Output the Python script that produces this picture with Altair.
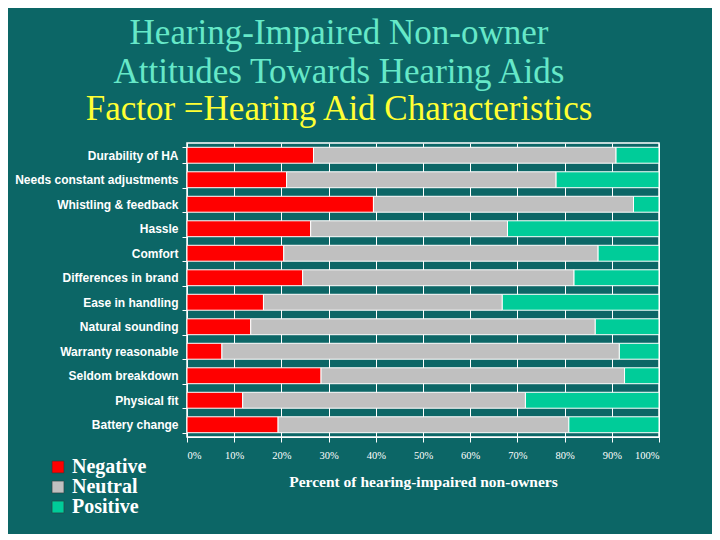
import altair as alt
import pandas as pd

factors = ["Durability of HA", "Needs constant adjustments", "Whistling & feedback",
           "Hassle", "Comfort", "Differences in brand", "Ease in handling",
           "Natural sounding", "Warranty reasonable", "Seldom breakdown",
           "Physical fit", "Battery change"]
negative = [26.8, 21.1, 39.5, 26.2, 20.5, 24.5, 16.2, 13.5, 7.4, 28.4, 11.8, 19.3]
neutral = [64.1, 57.1, 55.1, 41.7, 66.6, 57.5, 50.6, 73.0, 84.2, 64.3, 59.9, 61.6]
positive = [9.1, 21.8, 5.4, 32.1, 12.9, 18.0, 33.2, 13.5, 8.4, 7.3, 28.3, 19.1]
responses = ["Negative", "Neutral", "Positive"]
colors = ["#ff0000", "#c0c0c0", "#00cc99"]

rows = []
for i, f in enumerate(factors):
    for j, (r, v) in enumerate(zip(responses, [negative[i], neutral[i], positive[i]])):
        rows.append({"factor": f, "response": r, "order": j, "value": v / 100})
df = pd.DataFrame(rows)

chart = alt.Chart(df).mark_bar(stroke="white", strokeWidth=1).encode(
    y=alt.Y("factor:N", sort=factors, title=None,
            scale=alt.Scale(paddingInner=0.35, paddingOuter=0.175),
            axis=alt.Axis(labelFont="Liberation Sans", labelFontWeight="bold",
                          labelFontSize=12, labelColor="white", tickColor="white",
                          domainColor="white", tickBand="extent", tickSize=5,
                          labelPadding=4, grid=False)),
    x=alt.X("value:Q", stack="zero",
            scale=alt.Scale(domain=[0, 1], nice=False),
            axis=alt.Axis(format=".0%", values=[i / 10 for i in range(11)],
                          labelFont="Liberation Serif", labelFontSize=10.5,
                          labelColor="white", tickColor="white", domainColor="white",
                          tickSize=5, labelPadding=8, gridColor="white", gridOpacity=1,
                          gridWidth=1,
                          title="Percent of hearing-impaired non-owners",
                          titleFont="Liberation Serif", titleFontSize=15.5,
                          titleFontWeight="bold", titleColor="white", titlePadding=14)),
    color=alt.Color("response:N", sort=responses,
                    scale=alt.Scale(domain=responses, range=colors),
                    legend=alt.Legend(title=None, orient="none", legendX=-139, legendY=314,
                                      labelFont="Liberation Serif", labelFontSize=20,
                                      labelFontWeight="bold", labelColor="white",
                                      symbolType="square", symbolSize=140,
                                      symbolStrokeColor="#333333", symbolStrokeWidth=0.5,
                                      symbolOpacity=1, rowPadding=-1, labelOffset=4)),
    order=alt.Order("order:Q"),
).properties(
    width=472, height=294,
    autosize=alt.AutoSizeParams(type="none"),
    padding={"left": 179, "top": 135, "right": 53, "bottom": 97},
    background="#0c6666",
    title=alt.TitleParams(
        text=["Hearing-Impaired Non-owner", "Attitudes Towards Hearing Aids"],
        subtitle="Factor =Hearing Aid Characteristics",
        font="Liberation Serif", fontSize=35, fontWeight="normal", color="#66e8c8",
        subtitleFont="Liberation Serif", subtitleFontSize=35, subtitleColor="#ffff33",
        lineHeight=39, subtitleLineHeight=39, subtitlePadding=2,
        anchor="middle", dx=-84, offset=10),
).configure_view(stroke="white", strokeWidth=1.5)

chart.save("out.html", embed_options={"renderer": "svg", "actions": False})
